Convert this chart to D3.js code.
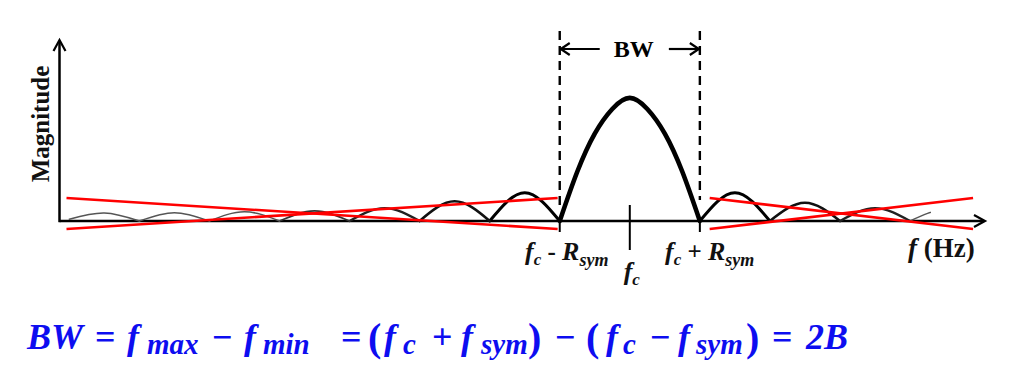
<!DOCTYPE html>
<html><head><meta charset="utf-8">
<script src="https://cdn.jsdelivr.net/npm/d3@7"></script>
<style>body{margin:0;background:#fff} svg{display:block}</style>
</head><body>
<svg id="c" width="1024" height="369"></svg>
<script>
// ---------- data (frequency in units of R_sym around f_c, magnitude normalised to main-lobe peak) ----------
const mainLobeFreq = [-1, -0.75, -0.5, -0.25, 0, 0.25, 0.5, 0.75, 1];
const mainLobeMag  = [0, 0.40, 0.71, 0.91, 1, 0.91, 0.71, 0.40, 0];
const leftSidelobePeaks  = [0.23, 0.16, 0.105, 0.082, 0.075, 0.068, 0.065]; // lobes -1..-2, -2..-3, ...
const rightSidelobePeaks = [0.23, 0.148, 0.105, 0.09];                    // lobes 1..2, 2..3, ...
const leftCurveStartMag = 0.015;
const rightCurveEnd = 4.3;
const bandEdges = [-1, 1];
const centerFreq = 0;
const redLeftFreq  = [-8.04, -1.03];
const redRightFreq = [1.14, 4.9];
const redMagRising  = [-0.065, 0.187];
const redMagFalling = [0.187, -0.065];
const axisFreqRange = [-8.14, 5.07];
const axisMagTop = 1.47;

// ---------- layout ----------
const svg = d3.select('#c');
const x = d3.scaleLinear().domain(axisFreqRange).range([59.5, 985]);
const y = d3.scaleLinear().domain([0, axisMagTop]).range([221, 40]);
const serif = "'Liberation Serif','Times New Roman',serif";

// axes
const axisG = svg.append('g').attr('stroke', '#000').attr('fill', 'none');
axisG.append('line').attr('x1', x(axisFreqRange[0])).attr('x2', x(axisFreqRange[1]) - 1)
  .attr('y1', y(0)).attr('y2', y(0)).attr('stroke-width', 2.5);
axisG.append('line').attr('x1', x(axisFreqRange[0])).attr('x2', x(axisFreqRange[0]))
  .attr('y1', y(0) + 1.2).attr('y2', y(axisMagTop) + 1).attr('stroke-width', 2.5);
axisG.append('path').attr('stroke-width', 2.2).attr('stroke-linejoin', 'miter')
  .attr('d', `M${x(axisFreqRange[0]) - 6},${y(axisMagTop) + 11}L${x(axisFreqRange[0])},${y(axisMagTop)}L${x(axisFreqRange[0]) + 6},${y(axisMagTop) + 11}`);
axisG.append('path').attr('stroke-width', 2.2)
  .attr('d', `M${x(axisFreqRange[1]) - 11},${y(0) - 6}L${x(axisFreqRange[1])},${y(0)}L${x(axisFreqRange[1]) - 11},${y(0) + 6}`);

// ticks: f_c and band edges
axisG.append('line').attr('x1', x(centerFreq)).attr('x2', x(centerFreq))
  .attr('y1', y(0) - 16).attr('y2', y(0) + 29).attr('stroke-width', 2);
bandEdges.forEach(f => axisG.append('line').attr('x1', x(f)).attr('x2', x(f))
  .attr('y1', y(0)).attr('y2', y(0) + 11).attr('stroke-width', 2));

// dashed band-edge lines
svg.append('g').selectAll('line').data(bandEdges).join('line')
  .attr('x1', d => x(d)).attr('x2', d => x(d))
  .attr('y1', 31).attr('y2', (d, i) => i === 0 ? 208 : 200)
  .attr('stroke', '#000').attr('stroke-width', 2.4).attr('stroke-dasharray', '9,6');

// BW arrows
const bwY = 49;
const arrowG = svg.append('g').attr('stroke', '#000').attr('fill', 'none').attr('stroke-width', 2.2);
arrowG.append('line').attr('x1', x(bandEdges[0]) + 1).attr('x2', x(bandEdges[0]) + 40).attr('y1', bwY).attr('y2', bwY);
arrowG.append('path').attr('d', `M${x(bandEdges[0]) + 10},${bwY - 6}L${x(bandEdges[0]) + 1},${bwY}L${x(bandEdges[0]) + 10},${bwY + 6}`);
arrowG.append('line').attr('x1', x(bandEdges[1]) - 31).attr('x2', x(bandEdges[1]) - 1).attr('y1', bwY).attr('y2', bwY);
arrowG.append('path').attr('d', `M${x(bandEdges[1]) - 10},${bwY - 6}L${x(bandEdges[1]) - 1},${bwY}L${x(bandEdges[1]) - 10},${bwY + 6}`);
svg.append('text').attr('x', (x(bandEdges[0]) + x(bandEdges[1])) / 2 + 4).attr('y', bwY + 8)
  .attr('text-anchor', 'middle').attr('font-family', serif).attr('font-weight', 'bold')
  .attr('font-size', 24).text('BW');

// ---------- spectrum ----------
const line = d3.line().x(d => x(d[0])).y(d => y(d[1])).curve(d3.curveNatural);
function lobeStyle(k) {
  if (k === 0) return { w: 4.6, c: '#000' };
  if (k === 1) return { w: 3.0, c: '#000' };
  if (k === 2) return { w: 2.6, c: '#111' };
  if (k === 3) return { w: 2.2, c: '#222' };
  if (k === 4) return { w: 1.8, c: '#333' };
  return { w: 1.5, c: '#555' };
}
const lobes = [];
leftSidelobePeaks.forEach((p, i) => {
  const a = -(i + 1), b = -(i + 2);
  const last = i === leftSidelobePeaks.length - 1;
  lobes.push({ k: i + 1, pts: [[b, last ? leftCurveStartMag : 0], [(a + b) / 2, p], [a, 0]] });
});
rightSidelobePeaks.forEach((p, i) => {
  const a = i + 1, b = i + 2;
  lobes.push({ k: i + 1 + (i === rightSidelobePeaks.length - 1 ? 3 : 0), pts: [[a, 0], [(a + b) / 2, p], [b, 0]] });
});
svg.append('clipPath').attr('id', 'clipR').append('rect')
  .attr('x', 0).attr('y', 0).attr('width', x(rightCurveEnd)).attr('height', 369);
const specG = svg.append('g').attr('fill', 'none').attr('stroke-linecap', 'round').attr('clip-path', 'url(#clipR)');
specG.selectAll('path.lobe').data(lobes).join('path').attr('class', 'lobe')
  .attr('d', d => line(d.pts))
  .attr('stroke', d => lobeStyle(d.k).c).attr('stroke-width', d => lobeStyle(d.k).w);
specG.append('path').attr('d', line(mainLobeFreq.map((f, i) => [f, mainLobeMag[i]])))
  .attr('stroke', '#000').attr('stroke-width', lobeStyle(0).w).attr('stroke-linejoin', 'round');

// red envelope lines
const redG = svg.append('g').attr('stroke', '#f00').attr('stroke-width', 2.6).attr('fill', 'none');
[[redLeftFreq, redMagRising], [redLeftFreq, redMagFalling], [redRightFreq, redMagRising], [redRightFreq, redMagFalling]]
  .forEach(([fs, ms]) => redG.append('line')
    .attr('x1', x(fs[0])).attr('y1', y(ms[0])).attr('x2', x(fs[1])).attr('y2', y(ms[1])));

// ---------- labels ----------
function label(parts, xPos, yPos, anchor) {
  const t = svg.append('text').attr('x', xPos).attr('y', yPos).attr('font-family', serif)
    .attr('font-weight', 'bold').attr('text-anchor', anchor || 'start').attr('fill', '#111');
  parts.forEach(p => t.append('tspan').text(p[0]).attr('font-size', p[1])
    .attr('font-style', p[2] ? 'italic' : 'normal').attr('dy', p[3] || 0));
  return t;
}
label([['f', 26, 1], ['c', 17, 1, 5], ['\u00a0-\u00a0', 25, 0, -5], ['R', 26, 1], ['sym', 18, 1, 6]], 525, 260);
label([['f', 26, 1], ['c', 17, 1, 5], ['\u00a0+\u00a0', 25, 0, -5], ['R', 26, 1], ['sym', 18, 1, 6]], 665, 260);
label([['f', 26, 1], ['c', 17, 1, 5]], x(centerFreq) + 2, 280, 'middle');
label([['f', 27, 1], ['\u00a0(Hz)', 27, 0]], 908, 257);
svg.append('text').attr('transform', 'translate(49,124) rotate(-90)').attr('text-anchor', 'middle')
  .attr('font-family', serif).attr('font-weight', 'bold').attr('font-size', 25).attr('fill', '#111')
  .text('Magnitude');

// ---------- formula ----------
const formulaLayout = [
  ['BW', 27, 'v'], ['=', 95, 'o'], ['f', 127, 'v'], ['max', 147, 's'], ['\u2212', 212, 'o'],
  ['f', 244, 'v'], ['min', 263, 's'], ['=', 341, 'o'], ['(', 368, 'p'], ['f', 384, 'v'],
  ['c', 403, 's'], ['+', 432, 'o'], ['f', 461, 'v'], ['sym', 481, 's'], [')', 528, 'p'],
  ['\u2212', 555, 'o'], ['(', 586, 'p'], ['f', 606, 'v'], ['c', 623, 's'], ['\u2212', 650, 'o'],
  ['f', 678, 'v'], ['sym', 696, 's'], [')', 746, 'p'], ['=', 772, 'o'], ['2B', 806, 'v']];
const fg = svg.append('g').attr('fill', '#0d0df0').attr('font-family', serif).attr('font-weight', 'bold');
formulaLayout.forEach(([t, xp, kind]) => {
  fg.append('text').attr('x', xp)
    .attr('y', kind === 's' ? 354 : (kind === 'p' ? 351 : 349))
    .attr('font-size', kind === 's' ? 29 : (kind === 'p' ? 40 : 36))
    .attr('font-style', (kind === 'v' || kind === 's') ? 'italic' : 'normal')
    .text(t);
});
</script>
</body></html>
